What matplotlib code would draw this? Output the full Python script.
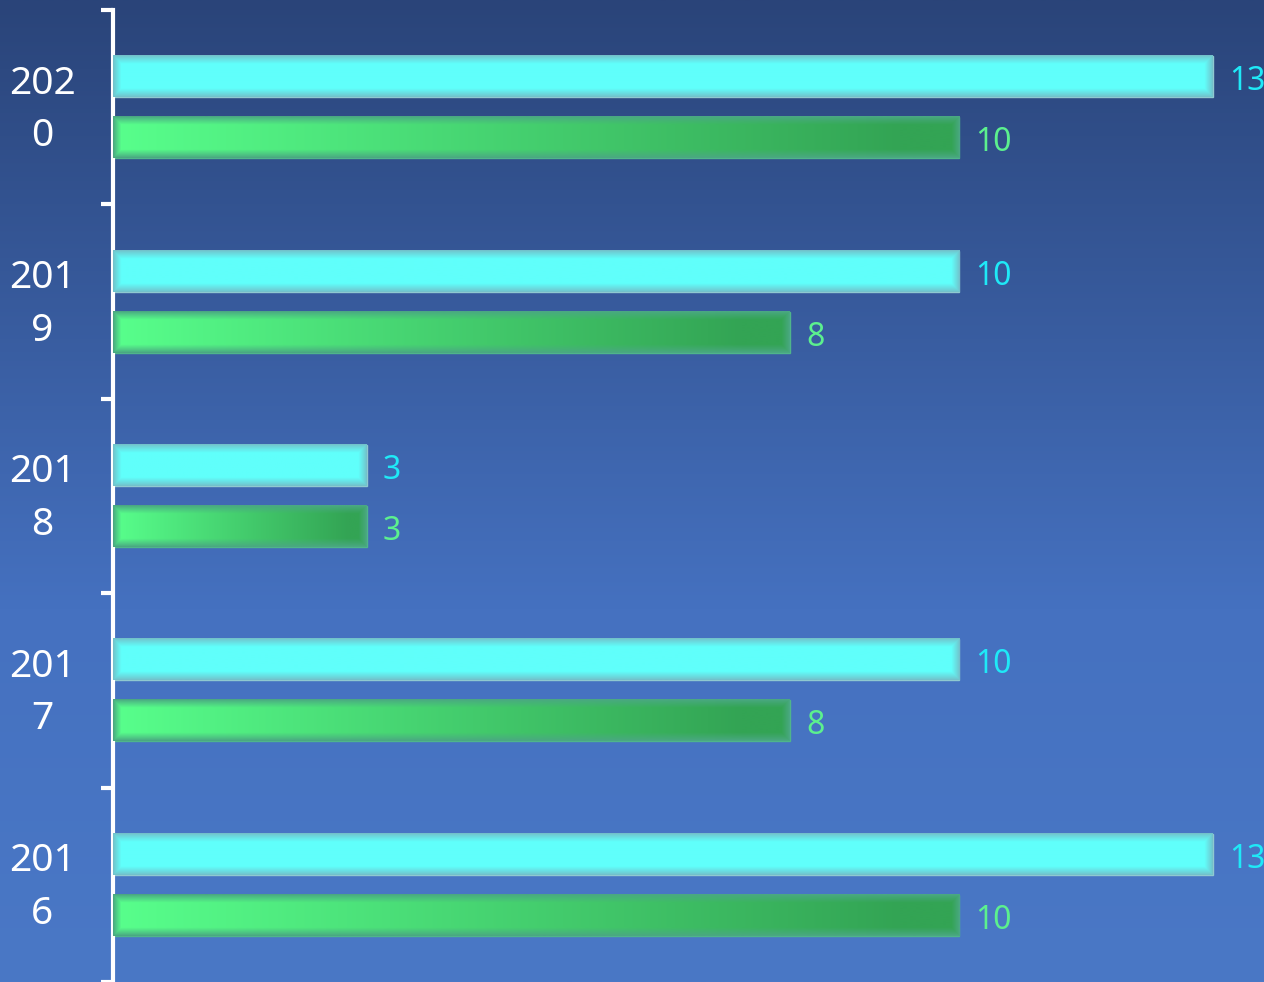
import numpy as np
import matplotlib.pyplot as plt
from matplotlib.colors import to_rgb
from matplotlib.transforms import ScaledTranslation

# Chart data (bottom to top)
years = ['2016', '2017', '2018', '2019', '2020']
cyan_values = [13, 10, 3, 10, 13]
green_values = [10, 8, 3, 8, 10]

cyan_color = '#60fffb'
green_left = '#58ff8c'
green_right = '#33a454'
cyan_text = '#1fe9f7'
green_text = '#5cf08e'

plt.rcParams['font.family'] = ['Noto Sans', 'DejaVu Sans']

fig = plt.figure(figsize=(12.64, 9.82), dpi=100)

# background gradient over the whole figure
bg = fig.add_axes([0, 0, 1, 1])
bg.set_axis_off()
top = np.array(to_rgb('#2a4479'))
mid = np.array(to_rgb('#4571c0'))
bot = np.array(to_rgb('#4a78c6'))
t = np.linspace(0, 1, 400)[:, None]
col = np.where(t < 0.62, top + (mid - top) * (t / 0.62),
               mid + (bot - mid) * ((t - 0.62) / 0.38))
bg.imshow(col.reshape(400, 1, 3), aspect='auto', extent=[0, 1, 0, 1])
bg.set_xlim(0, 1)
bg.set_ylim(0, 1)

ax = fig.add_axes([113 / 1264, 0, 1 - 113 / 1264, 1 - 10 / 982])
ax.patch.set_alpha(0)

bar_h = 0.211
offset = 0.157
px_per_unit = (1213 - 113) / 13.0
py_per_unit = 972 / 5.0


def bar_image(value, left_c, right_c, edge_c):
    w = max(int(value * px_per_unit), 10)
    h = 41
    xs = np.linspace(0, 1, w)
    left_c = np.array(to_rgb(left_c))
    right_c = np.array(to_rgb(right_c))
    # horizontal colour ramp, reaching the right colour near the end
    ramp = np.clip(xs / 0.93, 0, 1)[None, :, None]
    base = left_c + (right_c - left_c) * ramp
    base = np.repeat(base, h, axis=0)
    # inner glow: edges fade toward a greyish tone
    py = np.arange(h)
    px = np.arange(w)
    dy = np.minimum(py, h - 1 - py)[:, None]
    dx = np.minimum(px, w - 1 - px)[None, :]
    d = np.minimum(dy, dx).astype(float)
    f = np.clip(d / 8.0, 0, 1) ** 0.9
    edge = np.array(to_rgb(edge_c))
    img = edge + (base - edge) * f[:, :, None]
    return img


for i, year in enumerate(years):
    for val, off, kind in [(cyan_values[i], offset, 'c'), (green_values[i], -offset, 'g')]:
        y = i + off
        if kind == 'c':
            ax.barh(y, val, height=bar_h, color=cyan_color,
                    edgecolor='#8fc9d0', linewidth=1)
            img = bar_image(val, cyan_color, cyan_color, '#72c2cb')
            tc = cyan_text
        else:
            ax.barh(y, val, height=bar_h, color=green_left,
                    edgecolor='#4fb58a', linewidth=1)
            img = bar_image(val, green_left, green_right, '#4aa882')
            tc = green_text
        ax.imshow(img, aspect='auto', interpolation='bilinear',
                  extent=[0, val, y - bar_h / 2, y + bar_h / 2], zorder=3)
        ax.text(val + 16 / px_per_unit, y - 13.5 / py_per_unit, str(val),
                color=tc, fontsize=23, va='baseline', ha='left', zorder=4)

ax.set_xlim(0, (1264 - 113) / px_per_unit)
ax.set_ylim(-0.5, len(years) - 0.5)

for s in ['top', 'right', 'bottom']:
    ax.spines[s].set_visible(False)
ax.spines['left'].set_color('white')
ax.spines['left'].set_linewidth(3)
ax.set_xticks([])

ax.set_yticks(np.arange(len(years)))
ax.set_yticklabels([y[:3] + '\n' + y[3:] for y in years], color='white',
                   fontsize=28, ha='center', linespacing=1.5)
ax.tick_params(axis='y', which='major', length=0, pad=51)
shift = ScaledTranslation(0, 9 / 100, fig.dpi_scale_trans)
for lab in ax.get_yticklabels():
    lab.set_transform(lab.get_transform() + shift)
ax.set_yticks(np.arange(len(years) + 1) - 0.5, minor=True)
ax.tick_params(axis='y', which='minor', length=9, width=3, color='white')

plt.savefig('out.png', dpi=100)
